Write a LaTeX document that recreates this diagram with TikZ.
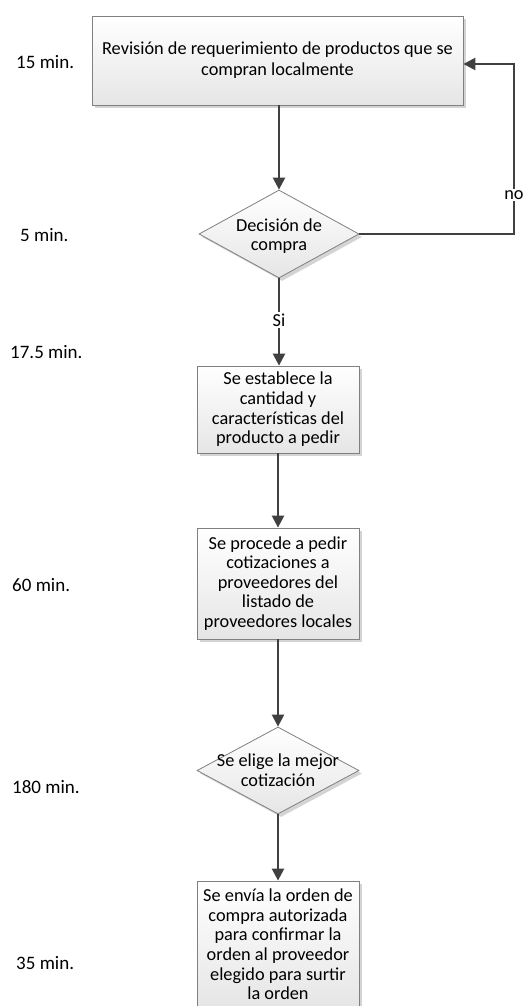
\documentclass[tikz,border=0pt]{standalone}
\usepackage{fontspec}
\setmainfont{Carlito}
\usetikzlibrary{arrows.meta,shadows,shapes.geometric}
\definecolor{edge}{HTML}{808080}
\definecolor{ink}{HTML}{404040}
\definecolor{shade}{HTML}{D4D4D4}
\tikzset{
  x=1pt, y=-1pt,
  txt/.style={font=\fontsize{18.3}{19.6}\selectfont, align=center, inner sep=0pt},
  timelbl/.style={font=\fontsize{19}{21}\selectfont, inner sep=0pt, anchor=west},
  stepbox/.style={draw=edge, line width=0.8pt, top color=white, bottom color=black!10,
    shading angle=0, rectangle, inner sep=0pt, align=center,
    font=\fontsize{18.3}{19.6}\selectfont,
    drop shadow={shadow xshift=3pt, shadow yshift=-3pt, fill=shade, opacity=1}},
  widebox/.style={stepbox, font=\fontsize{18.3}{21}\selectfont},
  decide/.style={draw=edge, line width=0.8pt, top color=white, bottom color=black!10,
    diamond, inner sep=0pt,
    drop shadow={shadow xshift=3pt, shadow yshift=-3pt, fill=shade, opacity=1}},
  flow/.style={draw=ink, line width=2.4pt, -{Triangle[length=12pt,width=12pt]}},
  flowlbl/.style={fill=white, inner sep=2pt, font=\fontsize{18.3}{21}\selectfont}
}
\begin{document}
\begin{tikzpicture}
\useasboundingbox[fill=white] (0,0) rectangle (524,1006);

% process steps
\node[widebox, minimum width=371pt, minimum height=89pt] (b1) at (277.5,60.5)
  {Revisión de requerimiento de productos que se\\compran localmente};
\node[decide, minimum width=160pt, minimum height=88pt] (d1) at (279,234) {};
\node[txt] (d1t) at (279,236) {Decisión de\\compra};
\node[stepbox, minimum width=162pt, minimum height=87pt] (b2) at (278,409.5)
  {Se establece la\\cantidad y\\características del\\producto a pedir};
\node[stepbox, minimum width=162pt, minimum height=111pt] (b3) at (278,583.5)
  {Se procede a pedir\\cotizaciones a\\proveedores del\\listado de\\proveedores locales};
\node[decide, minimum width=162pt, minimum height=87pt] (d2) at (278,770.5) {};
\node[txt] (d2t) at (278,770) {Se elige la mejor\\cotización};
\node[stepbox, minimum width=162pt, minimum height=127pt] (b4) at (278,944.5)
  {Se envía la orden de\\compra autorizada\\para confirmar la\\orden al proveedor\\elegido para surtir\\la orden};

% durations
\node[timelbl] (t1) at (16,62) {15 min.};
\node[timelbl] (t2) at (20,235) {5 min.};
\node[timelbl] (t3) at (10,352) {17.5 min.};
\node[timelbl] (t4) at (12,585) {60 min.};
\node[timelbl] (t5) at (12,787) {180 min.};
\node[timelbl] (t6) at (16,963) {35 min.};

% connectors
\coordinate (ret) at (514,64);
\draw[flow] (b1.south -| d1.north) -- (d1.north);
\draw[flow] (d1.east) -| (ret) -- (ret -| b1.east);
\draw[flow] (d1.south) -- (d1.south |- b2.north);
\draw[flow] (b2.south) -- (b3.north);
\draw[flow] (b3.south) -- (d2.north);
\draw[flow] (d2.south) -- (b4.north);
\node[flowlbl] (no) at (514,195) {no};
\node[flowlbl] (si) at (279,320) {Si};
\end{tikzpicture}
\end{document}
